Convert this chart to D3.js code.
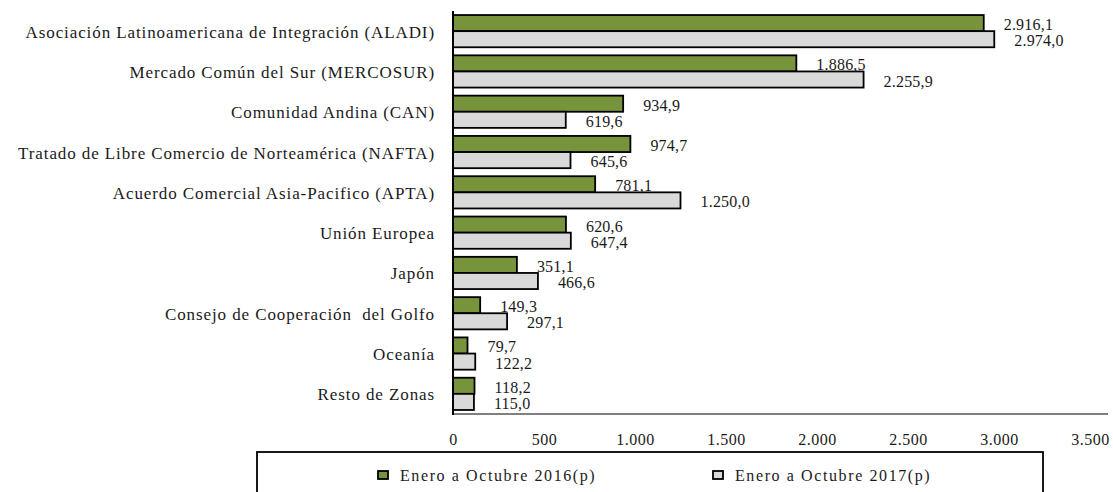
<!DOCTYPE html>
<html>
<head>
<meta charset="utf-8">
<script src="https://cdn.jsdelivr.net/npm/d3@7"></script>
<style>
  html, body { margin: 0; padding: 0; background: #fff; }
  svg { display: block; font-family: "Liberation Serif", "Times New Roman", serif; }
</style>
</head>
<body>
<svg id="chart" width="1113" height="492"></svg>
<script>
const categories = [
  "Asociación Latinoamericana de Integración (ALADI)",
  "Mercado Común del Sur (MERCOSUR)",
  "Comunidad Andina (CAN)",
  "Tratado de Libre Comercio de Norteamérica (NAFTA)",
  "Acuerdo Comercial Asia-Pacifico (APTA)",
  "Unión Europea",
  "Japón",
  "Consejo de Cooperación  del Golfo",
  "Oceanía",
  "Resto de Zonas"
];
const series2016 = [2916.1, 1886.5, 934.9, 974.7, 781.1, 620.6, 351.1, 149.3, 79.7, 118.2];
const series2017 = [2974.0, 2255.9, 619.6, 645.6, 1250.0, 647.4, 466.6, 297.1, 122.2, 115.0];
const seriesNames = ["Enero a Octubre 2016(p)", "Enero a Octubre 2017(p)"];
const seriesColors = ["#77933C", "#D9D9D9"];
const tickValues = [0, 500, 1000, 1500, 2000, 2500, 3000, 3500];

const svg = d3.select("#chart");
const fmt = d3.formatLocale({decimal: ",", thousands: ".", grouping: [3], currency: ["", ""]});
const fmtVal = fmt.format(",.1f");
const fmtTick = fmt.format(",.0f");

const x = d3.scaleLinear().domain([0, 3500]).range([453, 1090]);
const y = d3.scaleBand().domain(categories).range([11, 414]).paddingInner(0.2).paddingOuter(0.1);
const ySub = d3.scaleBand().domain([0, 1]).range([0, y.bandwidth()]);

const data = categories.map((c, i) => ({cat: c, vals: [series2016[i], series2017[i]]}));

// bottom gray line
svg.append("line")
  .attr("x1", x(0)).attr("x2", 1108)
  .attr("y1", 414).attr("y2", 414)
  .attr("stroke", "#808080").attr("stroke-width", 2);

// bars
const groups = svg.selectAll("g.grp").data(data).join("g")
  .attr("class", "grp")
  .attr("transform", d => `translate(0,${y(d.cat)})`);

groups.selectAll("rect").data(d => d.vals.map((v, k) => ({v, k}))).join("rect")
  .attr("x", x(0))
  .attr("y", d => ySub(d.k))
  .attr("width", d => x(d.v) - x(0))
  .attr("height", ySub.bandwidth())
  .attr("fill", d => seriesColors[d.k])
  .attr("stroke", "#000")
  .attr("stroke-width", 1.8);

groups.selectAll("text").data(d => d.vals.map((v, k) => ({v, k}))).join("text")
  .attr("x", d => x(d.v) + 20)
  .attr("y", d => ySub(d.k) + ySub.bandwidth() / 2 + 1.5)
  .attr("dominant-baseline", "central")
  .attr("font-size", 16)
  .attr("letter-spacing", 0.2)
  .attr("fill", "#1a1a1a")
  .text(d => fmtVal(d.v));

// category labels
svg.selectAll("text.cat").data(categories).join("text")
  .attr("class", "cat")
  .attr("x", 435)
  .attr("y", d => y(d) + y.bandwidth() / 2 + 1)
  .attr("text-anchor", "end")
  .attr("dominant-baseline", "central")
  .attr("font-size", 17)
  .attr("letter-spacing", 0.9)
  .attr("fill", "#1a1a1a")
  .attr("xml:space", "preserve")
  .style("white-space", "pre")
  .text(d => d);

// left axis line
svg.append("line")
  .attr("x1", x(0)).attr("x2", x(0))
  .attr("y1", 11).attr("y2", 415)
  .attr("stroke", "#000").attr("stroke-width", 2);

// x tick labels
const xAxis = d3.axisBottom(x).tickValues(tickValues).tickSize(0).tickPadding(0).tickFormat(fmtTick);
const ax = svg.append("g").attr("transform", "translate(0,434)").call(xAxis);
ax.select(".domain").remove();
ax.selectAll("text")
  .attr("font-family", "Liberation Serif, serif")
  .attr("font-size", 16)
  .attr("letter-spacing", 0.5)
  .attr("fill", "#1a1a1a")
  .attr("dy", "0.71em");

// legend
svg.append("rect")
  .attr("x", 257).attr("y", 452)
  .attr("width", 786).attr("height", 60)
  .attr("fill", "#fff").attr("stroke", "#000").attr("stroke-width", 1.8);

const legendX = [378, 713];
const leg = svg.selectAll("g.leg").data(seriesNames).join("g")
  .attr("class", "leg")
  .attr("transform", (d, i) => `translate(${legendX[i]},471)`);
leg.append("rect")
  .attr("x", 0).attr("y", 0).attr("width", 10).attr("height", 8)
  .attr("fill", (d, i) => seriesColors[i])
  .attr("stroke", "#000").attr("stroke-width", 1.8);
leg.append("text")
  .attr("x", 22).attr("y", 4.5)
  .attr("dominant-baseline", "central")
  .attr("font-size", 16)
  .attr("letter-spacing", 1.6)
  .attr("fill", "#1a1a1a")
  .text(d => d);
</script>
</body>
</html>
